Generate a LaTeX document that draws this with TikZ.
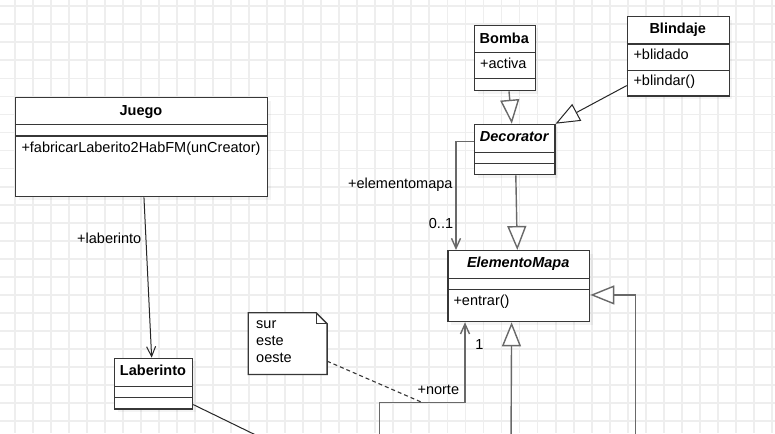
\documentclass[tikz,border=0pt]{standalone}
\usepackage{fontspec}
\setmainfont{Liberation Sans}
\usetikzlibrary{arrows.meta,calc,shadows}
\definecolor{gridc}{RGB}{238,238,238}
\definecolor{boxc}{RGB}{55,55,55}
\definecolor{linec}{RGB}{105,105,105}
\newcommand{\diagfont}{\fontsize{14.5}{17}\selectfont}
\begin{document}
\begin{tikzpicture}[x=1pt,y=-1pt,
  cls/.style={draw=boxc, line width=1.3pt, fill=white, inner sep=0pt, anchor=north west,
    drop shadow={shadow xshift=3pt, shadow yshift=-3pt, fill=black, opacity=0.045}},
  sepline/.style={draw=boxc, line width=1.3pt},
  txt/.style={font=\diagfont, inner sep=0pt, text height=10.5pt, text depth=3pt},
  ttl/.style={txt, font=\diagfont\bfseries},
  ttli/.style={txt, font=\diagfont\bfseries\itshape},
  thin/.style={draw=black!85, line width=1pt},
  thick/.style={draw=linec, line width=1.4pt},
  openv/.style={-{Straight Barb[length=10pt, width=9pt]}},
  gen/.style={-{Triangle[length=24pt, width=19pt, fill=white]}}
]
\useasboundingbox (0,0) rectangle (775,433);
\clip (0,0) rectangle (775,433);
\fill[white] (0,0) rectangle (775,433);
% grid
\foreach \k in {-1,...,42} \draw[gridc, line width=1.8pt] ({14.7+18.03*\k},0) -- ++(0,433);
\foreach \k in {0,...,23} \draw[gridc, line width=1.8pt] (0,{6.3+18.03*\k}) -- ++(775,0);

% Juego
\node[cls, minimum width=252pt, minimum height=99pt] (juego) at (15,97) {};
\draw[sepline] ($(juego.north west)+(0,27.5)$) -- ++(252,0);
\draw[sepline] ($(juego.north west)+(0,39)$) -- ++(252,0);
\node[ttl] (juegot) at (141,111.5) {Juego};
\node[txt, anchor=west] (juegom) at (21.3,148.3) {+fabricarLaberito2HabFM(unCreator)};

% Bomba
\node[cls, minimum width=60.7pt, minimum height=65.3pt] (bomba) at (474,24.7) {};
\draw[sepline] ($(bomba.north west)+(0,28)$) -- ++(60.7,0);
\draw[sepline] ($(bomba.north west)+(0,54)$) -- ++(60.7,0);
\node[ttl] (bombat) at (504.3,39.3) {Bomba};
\node[txt, anchor=west] (bombaa) at (480,65) {+activa};

% Blindaje
\node[cls, minimum width=102pt, minimum height=79.3pt] (blindaje) at (626.7,16) {};
\draw[sepline] ($(blindaje.north west)+(0,28)$) -- ++(102,0);
\draw[sepline] ($(blindaje.north west)+(0,54.7)$) -- ++(102,0);
\node[ttl] (blindajet) at (677.7,30) {Blindaje};
\node[txt, anchor=west] (blindajea) at (633.3,56) {+blidado};
\node[txt, anchor=west] (blindajem) at (633.3,81.7) {+blindar()};

% Decorator
\node[cls, minimum width=80.3pt, minimum height=50.3pt] (decorator) at (474,123.7) {};
\draw[sepline] ($(decorator.north west)+(0,28.6)$) -- ++(80.3,0);
\draw[sepline] ($(decorator.north west)+(0,39.6)$) -- ++(80.3,0);
\node[ttli] (decoratort) at (514.2,138) {Decorator};

% ElementoMapa
\node[cls, minimum width=141.7pt, minimum height=71pt] (elemento) at (447.3,250) {};
\draw[sepline] ($(elemento.north west)+(0,28.3)$) -- ++(141.7,0);
\draw[sepline] ($(elemento.north west)+(0,39.3)$) -- ++(141.7,0);
\node[ttli] (elementot) at (518.2,264) {ElementoMapa};
\node[txt, anchor=west] (elementom) at (453.3,301.7) {+entrar()};

% Laberinto
\node[cls, minimum width=78pt, minimum height=50.6pt] (laberinto) at (114,357.7) {};
\draw[sepline] ($(laberinto.north west)+(0,28.6)$) -- ++(78,0);
\draw[sepline] ($(laberinto.north west)+(0,39.6)$) -- ++(78,0);
\node[ttl] (laberintot) at (153,371.7) {Laberinto};

% Note
\node[inner sep=0pt, anchor=north west, minimum width=78.4pt, minimum height=61.3pt] (note) at (248.3,312.7) {};
\draw[draw=boxc, line width=1.3pt, fill=white] (note.north west) -- ($(note.north east)+(-11,0)$) -- ($(note.north east)+(0,11)$) -- (note.south east) -- (note.south west) -- cycle;
\draw[draw=boxc, line width=1.1pt] ($(note.north east)+(-11,0)$) -- ($(note.north east)+(-11,11)$) -- ($(note.north east)+(0,11)$);
\node[txt, anchor=west] (n1) at (256,325) {sur};
\node[txt, anchor=west] (n2) at (256,342) {este};
\node[txt, anchor=west] (n3) at (256,358.5) {oeste};

% free ends
\coordinate (rightend) at (635.7,445);
\coordinate (bottomend) at (511,445);
\coordinate (norteend) at (379.3,445);
\coordinate (labend) at (266,440);
\coordinate (nortehit) at (422.7,402.7);

% connectors
\draw[thin, openv] ($(juego.south)+(2.3,0)$) -- ($(laberinto.north)+(-2,0)$);
\node[txt, anchor=east] (llab) at (141.5,239.3) {+laberinto};

\draw[thick, gen] ($(bomba.south)+(4,0)$) -- ($(decorator.north)+(-3,0)$);
\draw[thin, gen] ($(blindaje.south west)+(0,-11)$) -- (decorator.north east);
\draw[thick, gen] ($(decorator.south)+(1,0)$) -- ($(elemento.north)+(-1.5,0)$);

\draw[thick, openv] ($(decorator.north west)+(0,17.6)$) -| ($(elemento.north west)+(8.7,0)$);
\node[txt, anchor=east] (lem) at (452.7,184.3) {+elementomapa};
\node[txt, anchor=east] (lmult) at (453.3,225) {0..1};

\draw[thick, gen] (rightend) |- ($(elemento.east)+(0,8.8)$);
\draw[thick, gen] (bottomend) -- ($(elemento.south)+(-7.2,0)$);

\draw[thick, openv] (norteend) |- (nortehit) -| ($(elemento.south west)+(17.7,0)$);
\node[txt] (l1) at (479.3,345.7) {1};
\node[txt] (lnorte) at (438.3,391) {+norte};

\draw[draw=boxc, line width=1.1pt, dash pattern=on 4pt off 3pt] ($(note.east)+(0,17.6)$) -- (nortehit);

\draw[thin] ($(laberinto.south east)+(0,-5)$) -- (labend);
\end{tikzpicture}
\end{document}
